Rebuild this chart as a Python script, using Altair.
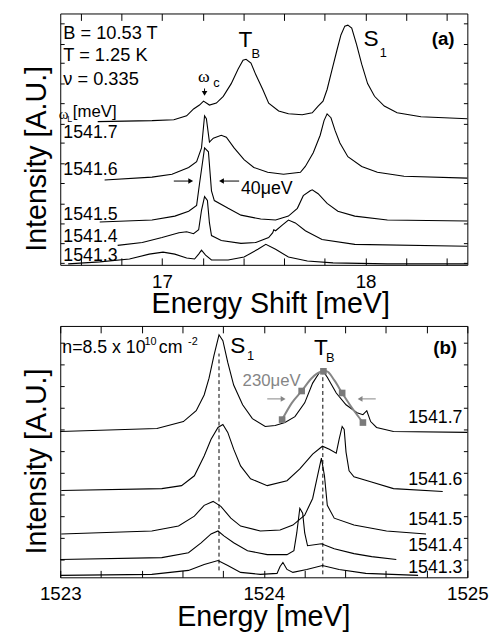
import altair as alt
import pandas as pd

FONT = "Liberation Sans"
SERIF = "Liberation Serif"
GRAY = "#858585"

# ---------------- Panel (a): spectra vs energy shift ----------------
A_NAMES = ["1541.7", "1541.6", "1541.5", "1541.4", "1541.3"]
a_x = {
    "1541.7": [16.684, 16.951, 17.058, 17.121, 17.155, 17.184, 17.204, 17.233, 17.267, 17.301,
               17.340, 17.374, 17.398, 17.413, 17.437, 17.461, 17.495, 17.524, 17.573, 17.621,
               17.689, 17.738, 17.767, 17.791, 17.811, 17.835, 17.859, 17.879, 17.898, 17.913,
               17.932, 17.956, 17.981, 18.010, 18.044, 18.092, 18.155, 18.272, 18.5],
    "1541.6": [16.718, 16.951, 17.049, 17.131, 17.170, 17.194, 17.209, 17.218, 17.233, 17.252,
               17.291, 17.316, 17.354, 17.403, 17.451, 17.519, 17.597, 17.680, 17.704, 17.743,
               17.777, 17.796, 17.811, 17.830, 17.850, 17.874, 17.913, 17.981, 18.058, 18.189, 18.5],
    "1541.5": [16.694, 16.951, 17.063, 17.131, 17.170, 17.184, 17.209, 17.228, 17.243, 17.257,
               17.325, 17.388, 17.485, 17.558, 17.621, 17.665, 17.694, 17.728, 17.738, 17.767,
               17.811, 17.864, 17.947, 18.107, 18.5],
    "1541.4": [16.782, 16.903, 17.000, 17.083, 17.121, 17.155, 17.180, 17.194, 17.209, 17.223,
               17.233, 17.243, 17.291, 17.388, 17.461, 17.524, 17.544, 17.549, 17.558, 17.592,
               17.621, 17.655, 17.704, 17.786, 17.947, 18.5],
    "1541.3": [16.539, 16.694, 16.840, 16.937, 17.005, 17.063, 17.121, 17.160, 17.180, 17.194,
               17.214, 17.243, 17.325, 17.403, 17.471, 17.510, 17.558, 17.621, 17.714, 17.840,
               18.107, 18.5],
}
a_y = {
    "1541.7": [147, 148, 149, 153, 160, 164, 168, 164, 166, 173, 186, 201, 210, 211, 207, 195, 180,
               166, 158, 155, 154, 156, 163, 168, 180, 200, 220, 236, 245, 246, 243, 226, 206, 186,
               173, 163, 156, 152, 150],
    "1541.6": [87, 90, 93, 100, 106, 120, 153, 150, 126, 130, 133, 131, 120, 108, 100, 95, 93, 95,
               101, 115, 133, 148, 155, 151, 138, 125, 111, 101, 95, 91, 89],
    "1541.5": [44, 46, 50, 55, 61, 83, 120, 116, 76, 66, 58, 51, 47, 46, 50, 58, 71, 76, 77, 73,
               63, 55, 50, 46, 45],
    "1541.4": [20, 23, 28, 33, 34, 32, 36, 56, 70, 66, 43, 30, 25, 22, 23, 28, 33, 36, 35, 41, 46,
               43, 35, 26, 21, 19],
    "1541.3": [1, 3, 6, 11, 13, 11, 7, 6, 11, 15, 10, 5, 5, 8, 16, 21, 16, 8, 4, 2, 1, 1],
}

# ---------------- Panel (b): spectra vs absolute energy ----------------
b_x = {
    "1541.7": [1523.000, 1523.475, 1523.605, 1523.668, 1523.707, 1523.731, 1523.755, 1523.780,
               1523.799, 1523.823, 1523.852, 1523.896, 1523.944, 1524.007, 1524.056, 1524.104,
               1524.153, 1524.201, 1524.240, 1524.274, 1524.288, 1524.312, 1524.356, 1524.404,
               1524.458, 1524.487, 1524.506, 1524.525, 1524.554, 1524.637, 1525.0],
    "1541.6": [1523.005, 1523.499, 1523.596, 1523.659, 1523.707, 1523.741, 1523.775, 1523.799,
               1523.823, 1523.852, 1523.886, 1523.935, 1524.017, 1524.114, 1524.177, 1524.240,
               1524.288, 1524.322, 1524.356, 1524.370, 1524.385, 1524.395, 1524.404, 1524.419,
               1524.443, 1524.525, 1524.637, 1524.879],
    "1541.5": [1523.005, 1523.450, 1523.581, 1523.659, 1523.707, 1523.751, 1523.789, 1523.838,
               1523.886, 1523.983, 1524.080, 1524.143, 1524.201, 1524.240, 1524.264, 1524.283,
               1524.298, 1524.312, 1524.346, 1524.443, 1524.603, 1524.797],
    "1541.4": [1523.000, 1523.499, 1523.630, 1523.692, 1523.741, 1523.775, 1523.804, 1523.852,
               1523.920, 1524.017, 1524.114, 1524.148, 1524.162, 1524.177, 1524.191, 1524.201,
               1524.215, 1524.283, 1524.346, 1524.443, 1524.530, 1524.651],
    "1541.3": [1523.000, 1523.450, 1523.630, 1523.707, 1523.775, 1523.823, 1523.886, 1523.983,
               1524.065, 1524.080, 1524.094, 1524.114, 1524.143, 1524.211, 1524.288, 1524.370,
               1524.501, 1524.758],
}
b_y = {
    "1541.7": [148, 151, 158, 169, 185, 202, 225, 246, 240, 218, 195, 175, 161, 153, 154, 157, 163,
               177, 197, 208, 210, 203, 187, 175, 167, 165, 169, 158, 152, 148, 147],
    "1541.6": [88, 90, 93, 103, 123, 140, 152, 155, 147, 130, 113, 100, 93, 98, 110, 125, 133, 130,
               126, 140, 153, 150, 127, 108, 102, 97, 90, 87],
    "1541.5": [44, 47, 52, 62, 73, 77, 72, 60, 52, 47, 48, 53, 63, 80, 103, 121, 103, 73, 60, 53,
               47, 44],
    "1541.4": [18, 20, 25, 35, 44, 47, 42, 35, 27, 23, 23, 27, 45, 70, 65, 45, 32, 34, 29, 24, 21, 18],
    "1541.3": [2, 3, 7, 13, 17, 12, 5, 3, 4, 11, 15, 8, 5, 8, 12, 8, 4, 2],
}
# Lineshape fit of T_B (grey) and its marked points
fit_x = [1524.090, 1524.138, 1524.186, 1524.235, 1524.274, 1524.308, 1524.346, 1524.385,
         1524.433, 1524.487]
fit_y = [160, 177, 189, 202, 208, 209, 200, 187, 172, 157]
sq_x = [1524.090, 1524.186, 1524.293, 1524.385, 1524.487]
sq_y = [160, 189, 209, 187, 157]
# Peak positions marked by dashed lines: (energy, from, to)
peak_lines = [(1523.78, 7, 227), (1524.29, 3, 208)]

A_XTICKS = [16.6, 16.8, 17.0, 17.2, 17.4, 17.6, 17.8, 18.0, 18.2, 18.4]
B_XTICKS = [1523.0, 1523.2, 1523.4, 1523.6, 1523.8, 1524.0, 1524.2, 1524.4, 1524.6, 1524.8, 1525.0]
A_YTICKS = [2, 22, 43, 63, 84, 104, 125, 145, 166, 186, 207, 227, 248]
B_YTICKS = [18, 40, 62, 84, 106, 128, 150, 172, 194, 216, 238]

LABEL_EXPR = "abs(datum.value - round(datum.value)) < 0.001 ? format(datum.value, 'd') : ''"


def spectra_df(xs, ys):
    rows = []
    for name in xs:
        for i, (x, y) in enumerate(zip(xs[name], ys[name])):
            rows.append({"series": name, "x": x, "y": y, "i": i})
    return pd.DataFrame(rows)


def enc_xy(xs, ys):
    return dict(x=alt.X("x:Q", scale=xs, axis=None), y=alt.Y("y:Q", scale=ys, axis=None))


def text_layer(rows, xs, ys, **mk):
    df = pd.DataFrame(rows, columns=["t", "x", "y", "s"])
    return alt.Chart(df).mark_text(baseline="middle", **mk).encode(
        **enc_xy(xs, ys),
        text="t:N",
        size=alt.Size("s:Q", scale=None, legend=None),
    )


def arrows(rules, heads, xs, ys, color):
    rdf = pd.DataFrame(rules, columns=["x", "x2", "y", "y2"])
    hdf = pd.DataFrame(heads, columns=["x", "y", "shape"])
    r = alt.Chart(rdf).mark_rule(color=color, strokeWidth=1).encode(
        x=alt.X("x:Q", scale=xs, axis=None), x2="x2:Q",
        y=alt.Y("y:Q", scale=ys, axis=None), y2="y2:Q")
    h = alt.Chart(hdf).mark_point(filled=True, color=color, opacity=1, size=32).encode(
        **enc_xy(xs, ys), shape=alt.Shape("shape:N", scale=None, legend=None))
    return [r, h]


def panel(df, xdom, ydom, xticks, yticks, xtitle, xtitle_x, xtitle_y, ytitle_y, height, extra):
    xs = alt.Scale(domain=xdom, nice=False, zero=False)
    ys = alt.Scale(domain=ydom, nice=False, zero=False)
    base = alt.Chart(df)
    lines = base.mark_line(color="black", strokeWidth=1.1).encode(
        x=alt.X("x:Q", scale=xs, axis=alt.Axis(
            orient="bottom", values=xticks, labelExpr=LABEL_EXPR, tickSize=7, offset=-7,
            domain=False, grid=False, labelFontSize=19, labelFont=FONT, labelPadding=8,
            labelFlush=False, labelOverlap=False, title=xtitle, titleFont=FONT,
            titleFontSize=29, titleFontWeight="normal", titleX=xtitle_x, titleY=xtitle_y,
            titleBaseline="alphabetic", titleAlign="center", tickColor="black",
            labelColor="black", titleColor="black")),
        y=alt.Y("y:Q", scale=ys, axis=alt.Axis(
            orient="left", values=yticks, labels=False, tickSize=4, offset=-4, domain=False,
            grid=False, title="Intensity [A.U.]", titleFont=FONT, titleFontSize=29,
            titleFontWeight="normal", titleX=-19, titleY=ytitle_y, titleBaseline="alphabetic",
            titleAlign="center", titleAngle=270, tickColor="black", titleColor="black")),
        detail="series:N",
        order="i:Q",
    )
    frame = base.mark_line(opacity=0).encode(
        x=alt.X("x:Q", scale=xs, axis=alt.Axis(
            orient="top", values=xticks, labels=False, tickSize=7, offset=-7, domain=False,
            grid=False, title=None, tickColor="black")),
        y=alt.Y("y:Q", scale=ys, axis=alt.Axis(
            orient="right", values=yticks, labels=False, tickSize=4, offset=-4, domain=False,
            grid=False, title=None, tickColor="black")),
        detail="series:N",
        order="i:Q",
    )
    layers = [lines, frame] + extra(xs, ys)
    return alt.layer(*layers).properties(width=413, height=height)


def extra_a(xs, ys):
    L = []
    L.append(text_layer([
        ("B = 10.53 T", 16.515, 238, 18.5), ("T = 1.25 K", 16.515, 215, 18.5),
        ("ν = 0.335", 16.515, 191, 18.5), ("[meV]", 16.562, 157, 17),
        (A_NAMES[0], 16.515, 135, 18), (A_NAMES[1], 16.515, 97, 18),
        (A_NAMES[2], 16.515, 51, 18), (A_NAMES[3], 16.515, 29, 18),
        (A_NAMES[4], 16.515, 9, 18), ("40μeV", 17.388, 78, 18),
    ], xs, ys, align="left", font=FONT, color="black"))
    L.append(text_layer([
        ("T", 17.410, 230.5, 23), ("B", 17.461, 216.5, 13),
        ("S", 18.027, 232, 23), ("1", 18.087, 217, 13),
        ("c", 17.267, 187, 13), ("L", 16.546, 150, 9),
    ], xs, ys, align="center", font=FONT, color="black"))
    L.append(text_layer([("(a)", 18.381, 231.5, 19)], xs, ys, align="center", font=FONT,
                        fontWeight="bold", color="black"))
    L.append(text_layer([("ω", 17.206, 193, 18), ("ω", 16.517, 155, 15)], xs, ys,
                        align="center", font=SERIF, color="black"))
    L += arrows(
        [(17.058, 17.141, 86, 86), (17.379, 17.292, 86, 86), (17.209, 17.209, 181, 176)],
        [(17.141, 86, "triangle-right"), (17.292, 86, "triangle-left"),
         (17.209, 176, "triangle-down")],
        xs, ys, "black")
    return L


def extra_b(xs, ys):
    L = []
    pl = pd.DataFrame(peak_lines, columns=["x", "y", "y2"])
    L.append(alt.Chart(pl).mark_rule(color="black", strokeWidth=1, strokeDash=[4, 3]).encode(
        x=alt.X("x:Q", scale=xs, axis=None), y=alt.Y("y:Q", scale=ys, axis=None), y2="y2:Q"))
    fit = pd.DataFrame({"x": fit_x, "y": fit_y, "i": list(range(len(fit_x)))})
    L.append(alt.Chart(fit).mark_line(color=GRAY, strokeWidth=2, interpolate="monotone").encode(
        **enc_xy(xs, ys), order="i:Q"))
    sq = pd.DataFrame({"x": sq_x, "y": sq_y})
    L.append(alt.Chart(sq).mark_point(shape="square", filled=True, color="#7a7a7a", opacity=1,
                                      size=45).encode(**enc_xy(xs, ys)))
    L += arrows(
        [(1524.017, 1524.095, 181, 181), (1524.550, 1524.473, 181, 181)],
        [(1524.095, 181, "triangle-right"), (1524.473, 181, "triangle-left")],
        xs, ys, GRAY)
    L.append(text_layer([
        ("n=8.5 x 10", 1523.010, 233, 18), ("10", 1523.414, 239, 11),
        ("cm", 1523.484, 233, 18), ("-2", 1523.628, 239, 11),
    ], xs, ys, align="left", font=FONT, color="black"))
    L.append(text_layer([("230μeV", 1523.896, 199, 17)], xs, ys, align="left", font=FONT,
                        color=GRAY))
    L.append(text_layer([
        ("S", 1523.872, 235, 23), ("1", 1523.935, 224, 13),
        ("T", 1524.281, 232.5, 23), ("B", 1524.327, 222, 13),
    ], xs, ys, align="center", font=FONT, color="black"))
    L.append(text_layer([("(b)", 1524.891, 232.5, 19)], xs, ys, align="center", font=FONT,
                        fontWeight="bold", color="black"))
    L.append(text_layer([
        (A_NAMES[0], 1524.976, 161.5, 18), (A_NAMES[1], 1524.976, 99, 18),
        (A_NAMES[2], 1524.976, 58.5, 18), (A_NAMES[3], 1524.976, 31.5, 18),
        (A_NAMES[4], 1524.976, 9, 18),
    ], xs, ys, align="right", font=FONT, color="black"))
    return L


chart_a = panel(spectra_df(a_x, a_y), [16.5, 18.5], [0, 258], A_XTICKS, A_YTICKS,
                "Energy Shift [meV]", 213, 55, 147, 255, extra_a)
chart_b = panel(spectra_df(b_x, b_y), [1523, 1525], [0, 255], B_XTICKS, B_YTICKS,
                "Energy [meV]", 206, 56, 137, 255, extra_b)

chart = alt.vconcat(chart_a, chart_b, spacing=62, bounds="flush").properties(
    padding={"left": 14, "top": 0, "right": 2, "bottom": 0}
).configure_view(stroke="black", strokeWidth=1)

chart.save("out.html", embed_options={"renderer": "svg", "actions": False})
